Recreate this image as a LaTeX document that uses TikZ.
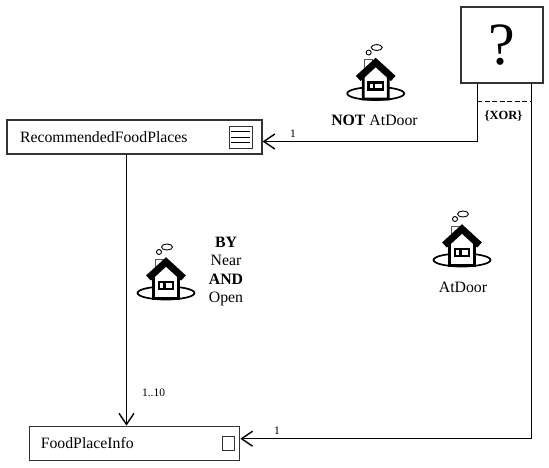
\documentclass[tikz,border=0pt]{standalone}
\usepackage{fontspec}
\setmainfont{Liberation Serif}
\usetikzlibrary{positioning,arrows.meta,calc}
\definecolor{line}{HTML}{333333}
\definecolor{chimney}{HTML}{555555}

\tikzset{
  house/.pic={
    \draw[line width=1.7pt,fill=white] (0,0) ellipse (28.5 and 6.5);
    \draw[draw=chimney,line width=0.9pt] (-11,-24) -- (-11,-34) -- (-3,-34) -- (-3,-28);
    \draw[line width=2.6pt,fill=white] (-12.5,-18) -- (0,-30) -- (12.5,-18) -- (12.5,5.5) -- (-12.5,5.5) -- cycle;
    \draw[line width=7pt,miter limit=3] (-17.5,-15) -- (0,-31) -- (17.5,-15);
    \draw[line width=2.2pt,fill=white] (-7.3,-11) rectangle (7.3,-4);
    \fill (-3,-11) rectangle (-0.5,-4);
    \draw[line width=0.9pt] (-7,-41) circle (2.5);
    \draw[line width=0.9pt] (1,-46) ellipse (5.5 and 3);
  }
}

\begin{document}
\begin{tikzpicture}[
  x=1pt,y=-1pt,
  font=\fontsize{15.8}{18.5}\selectfont,
  classbox/.style={draw=line,line width=1.2pt,fill=white,minimum height=34pt,align=left,inner ysep=0pt},
  edge/.style={-{Straight Barb[length=11pt,width=15pt,line width=1.4pt]},draw=black,line width=1pt},
  card/.style={font=\fontsize{11.5}{13}\selectfont,inner sep=0pt},
  iconbox/.style={draw=line,line width=1pt,fill=white,inner sep=0pt}
]
\useasboundingbox (0,0) rectangle (549,467);

\node[classbox,minimum width=255pt,text width=229pt,inner xsep=13pt] (rec) at (134.5,137) {RecommendedFoodPlaces};
\node[classbox,minimum width=210.5pt,text width=187.5pt,inner xsep=11.5pt,below=271pt of rec] (food) {FoodPlaceInfo};
\node[draw=line,line width=1.2pt,fill=white,minimum width=82pt,minimum height=76pt,inner sep=0pt,font=\fontsize{60}{60}\selectfont] (what) at (502,45) {\raisebox{-5pt}{?}};

\node[iconbox,minimum width=23pt,minimum height=22pt,left=10pt of rec.east] (list) {};
\node[iconbox,minimum width=12pt,minimum height=14pt,left=5pt of food.east] (item) {};
\draw[line width=0.9pt] ($(list.west)+(2.5,-6)$) -- ($(list.east)+(-2.5,-6)$);
\draw[line width=0.9pt] ($(list.west)+(2.5,0)$) -- ($(list.east)+(-2.5,0)$);
\draw[line width=0.9pt] ($(list.west)+(2.5,5.5)$) -- ($(list.east)+(-2.5,5.5)$);

\coordinate (recin) at ($(rec.east)+(0,4.5)$);
\coordinate (recout) at ($(rec.south)+(-8,0)$);
\coordinate (foodin) at ($(food.east)+(0,-4.5)$);
\coordinate (whatl) at ($(what.south)+(-25,0)$);
\coordinate (whatr) at ($(what.south)+(29,0)$);

\draw[edge] (whatl) |- (recin);
\draw[edge] (whatr) |- (foodin);
\draw[edge] (recout) -- (recout |- food.north);
\draw[line width=1pt,dash pattern=on 5pt off 2.5pt] ($(whatl)+(0,18)$) -- ($(whatr)+(0,18)$);

\node[card,font=\fontsize{12.5}{13}\selectfont\bfseries] (xor) at (503.5,116) {\{XOR\}};
\node[card] (one) at (293,134) {1};
\node[card] (two) at (277,431) {1};
\node[card] (many) at (153.5,393) {1..10};

\pic at (375.7,93.5) {house};
\pic at (166,293) {house};
\pic at (462,260) {house};

\node (notdoor) at (374.5,120) {\textbf{NOT} AtDoor};
\node (door) at (463,287) {AtDoor};
\node[align=center,inner sep=0pt] (by) at (226,271.5) {\textbf{BY}\\Near\\\textbf{AND}\\Open};
\end{tikzpicture}
\end{document}
